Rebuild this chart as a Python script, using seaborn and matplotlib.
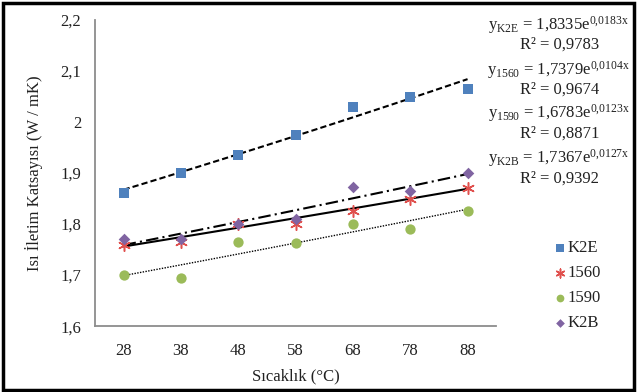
import numpy as np
import pandas as pd
import seaborn as sns
import matplotlib.pyplot as plt
from matplotlib.patches import Rectangle

# data
temps = [28, 38, 48, 58, 68, 78, 88]
k2e = [1.860, 1.900, 1.935, 1.975, 2.030, 2.050, 2.065]
s1560 = [1.760, 1.765, 1.800, 1.800, 1.825, 1.850, 1.870]
s1590 = [1.700, 1.695, 1.765, 1.762, 1.800, 1.790, 1.825]
k2b = [1.770, 1.770, 1.800, 1.810, 1.873, 1.865, 1.900]

series_names = ["K2E", "1560", "1590", "K2B"]
# exponential trendline coefficients (y = a * e^(b x), x = 1..7)
trend_a = [1.8335, 1.7379, 1.6783, 1.7367]
trend_b = [0.0183, 0.0104, 0.0123, 0.0127]
r2_vals = ["0,9783", "0,9674", "0,8871", "0,9392"]
eq_subs = ["K2E", "1560", "1590", "K2B"]

colors = ["#4F81BD", "#E0504D", "#9BBB59", "#8064A2"]
markers = ["s", (6, 2, 0), "o", "D"]
sizes = [55, 70, 55, 35]
trend_styles = [(0, (3, 1.5)), "-", (0, (1, 1)), (0, (6, 2, 1, 2))]
trend_widths = [1.5, 1.5, 1.0, 1.5]

sns.set_style("white")
plt.rcParams["font.family"] = ["Liberation Serif", "DejaVu Serif"]
plt.rcParams["mathtext.fontset"] = "custom"
plt.rcParams["mathtext.rm"] = "Liberation Serif"
plt.rcParams["mathtext.it"] = "Liberation Serif:italic"

df = pd.DataFrame({
    "idx": list(range(1, 8)) * 4,
    "val": k2e + s1560 + s1590 + k2b,
    "series": np.repeat(series_names, 7),
})

fig = plt.figure(figsize=(6.37, 3.92), dpi=100)
ax = fig.add_axes([0.149, 0.168, 0.630, 0.781])

# trendlines
xs = np.linspace(1, 7, 50)
for a, b, ls, lw in zip(trend_a, trend_b, trend_styles, trend_widths):
    ax.plot(xs, a * np.exp(b * xs), color="black", linestyle=ls, linewidth=lw,
            zorder=2, label="_nolegend_")

for name, c, m, s in zip(series_names, colors, markers, sizes):
    sub = df[df["series"] == name]
    star = m == (6, 2, 0)
    sns.scatterplot(data=sub, x="idx", y="val", ax=ax, color=c, marker=m, s=s,
                    edgecolor=c if not star else None, linewidth=1.1 if star else 0,
                    label=name, zorder=3)

ax.set_xlim(0.5, 7.5)
ax.set_ylim(1.6, 2.2)
ax.set_xticks(range(1, 8))
ax.set_xticklabels([str(t) for t in temps])
ax.set_xticks([7.5], minor=True)
yt = np.arange(1.6, 2.21, 0.1)
ax.set_yticks(yt)
ax.set_yticklabels([("%.1f" % v).replace(".", ",").replace(",0", "") for v in yt])

for side in ["top", "right"]:
    ax.spines[side].set_visible(False)
for side in ["left", "bottom"]:
    ax.spines[side].set_color("#8C8C8C")
    ax.spines[side].set_linewidth(1.3)
ax.tick_params(axis="both", which="both", direction="out", length=4, color="#8C8C8C",
               width=1.2, labelsize=12, pad=4, labelcolor="#222222")
ax.tick_params(axis="x", pad=8)
ax.tick_params(axis="y", pad=6)
ax.grid(False)

ax.set_xlabel("Sıcaklık (°C)", fontsize=12, color="#222222", labelpad=7)
ax.set_ylabel("Isı İletim Katsayısı (W / mK)", fontsize=12, color="#222222", labelpad=12)

# equation labels
eq_y = [0.936, 0.885, 0.822, 0.772, 0.712, 0.660, 0.598, 0.545]
for i in range(4):
    a_txt = ("%.4f" % trend_a[i]).replace(".", ",")
    b_txt = ("%.4f" % trend_b[i]).replace(".", "{,}")
    fig.text(0.877, eq_y[2 * i],
             r"$\mathrm{y_{%s}}$ = %se$^{\mathrm{%sx}}$" % (eq_subs[i], a_txt, b_txt),
             ha="center", va="center", fontsize=12, color="#222222")
    fig.text(0.878, eq_y[2 * i + 1], "R² = " + r2_vals[i],
             ha="center", va="center", fontsize=12, color="#222222")

leg = ax.legend(loc="upper left", bbox_to_anchor=(0.855, 0.405), bbox_transform=fig.transFigure,
                frameon=False, fontsize=12, handletextpad=0.0, labelspacing=0.55,
                handlelength=1.0, borderaxespad=0, markerscale=0.75)
for t in leg.get_texts():
    t.set_color("#222222")

fig.patches.append(Rectangle((0.004, 0.006), 0.992, 0.986, transform=fig.transFigure,
                             fill=False, edgecolor="black", linewidth=2.5))

fig.savefig("out.png", dpi=100)
